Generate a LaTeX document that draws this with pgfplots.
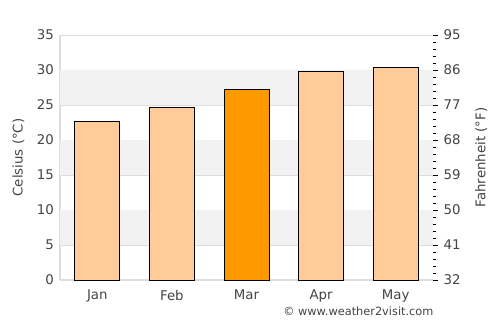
\documentclass[border=0pt]{standalone}
\usepackage{fontspec}
\setmainfont{DejaVu Sans}
\usepackage{pgfplots}
\pgfplotsset{compat=1.18}
\definecolor{txt}{HTML}{444444}
\definecolor{gridc}{HTML}{DDDDDD}
\definecolor{band}{HTML}{F2F2F2}
\definecolor{barl}{HTML}{FFCC99}
\definecolor{bard}{HTML}{FF9900}
\begin{document}
\begin{tikzpicture}[x=1pt,y=1pt]
\useasboundingbox (-45pt,-33.75pt) rectangle (330pt,210pt);
\begin{axis}[
  at={(0,0)}, anchor=south west,
  scale only axis, width=279.75pt, height=183.75pt,
  xmin=-0.5, xmax=4.5, ymin=0, ymax=35,
  axis x line*=bottom, axis y line*=left,
  axis line style={gridc, line width=0.8pt},
  xtick={0,1,2,3,4}, xticklabels={Jan,Feb,Mar,Apr,May},
  ytick={0,5,...,35},
  ymajorgrids, grid style={gridc, line width=0.6pt},
  major tick length=0pt,
  tick label style={font=\fontsize{10}{12}\selectfont, text=txt},
  /pgf/number format/assume math mode=true,
  yticklabel style={xshift=-1pt},
  xticklabel style={yshift=-4pt},
  ylabel={Celsius (°C)}, ylabel style={font=\fontsize{10}{12}\selectfont, text=txt, yshift=2.5pt},
  ybar, bar width=33.75pt, bar shift=0pt,
  clip=false,
]
\fill[band] (axis cs:-0.5,5) rectangle (axis cs:4.5,10);
\fill[band] (axis cs:-0.5,15) rectangle (axis cs:4.5,20);
\fill[band] (axis cs:-0.5,25) rectangle (axis cs:4.5,30);
\addplot[fill=barl, draw=black, line width=0.7pt] coordinates {(0,22.7) (1,24.7) (3,29.8) (4,30.4)};
\addplot[fill=bard, draw=black, line width=0.7pt] coordinates {(2,27.2)};
\node[anchor=north east, inner sep=0pt, font=\fontsize{8.5}{10}\selectfont, text=txt] at ([xshift=0.5pt,yshift=-20pt]axis cs:4.5,0) {© www.weather2visit.com};
\end{axis}
\begin{axis}[
  at={(0,0)}, anchor=south west,
  scale only axis, width=279.75pt, height=183.75pt,
  xmin=-0.5, xmax=4.5, ymin=32, ymax=95,
  axis x line=none, axis y line*=right,
  y axis line style={draw=none},
  ytick={32,41,...,95},
  minor ytick={33.8,35.6,...,95},
  tick style={black, line width=0.6pt},
  tick align=outside,
  major tick length=3.5pt, minor tick length=2.2pt,
  tick label style={font=\fontsize{10}{12}\selectfont, text=txt},
  /pgf/number format/assume math mode=true,
  yticklabel style={xshift=1pt},
  ylabel={Fahrenheit (°F)}, ylabel style={font=\fontsize{10}{12}\selectfont, text=txt, yshift=-4pt},
]
\end{axis}
\end{tikzpicture}
\end{document}
